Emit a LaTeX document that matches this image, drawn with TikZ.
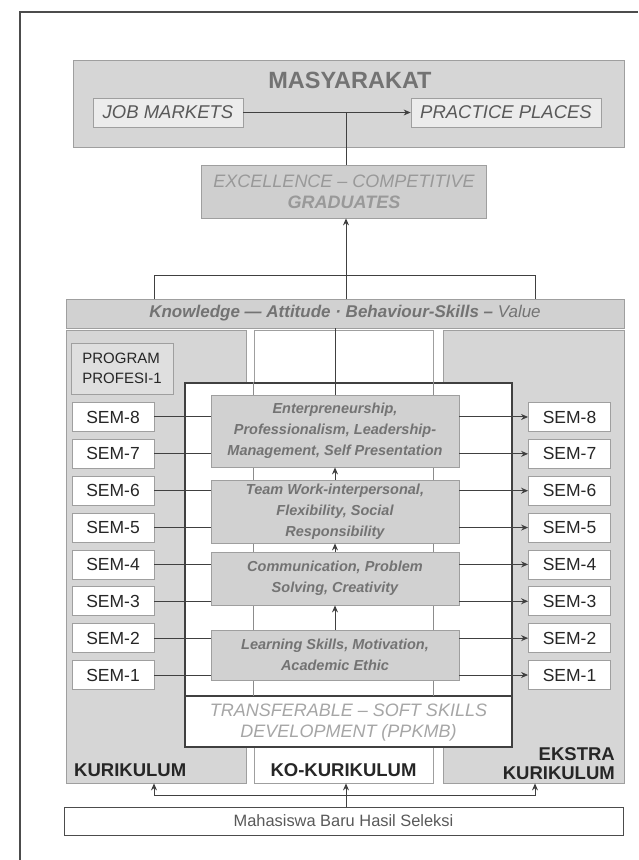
\documentclass[tikz,border=0pt]{standalone}
\usepackage{fontspec}
\setmainfont{Liberation Sans}
\usepackage{xcolor}
\usepackage{tikz}
\usetikzlibrary{arrows.meta,calc}
\tikzset{
  box/.style={draw=gray!75,line width=0.8pt,rectangle,inner sep=0pt,align=center},
  gbox/.style={box,fill=gray!32},
  hbox/.style={box,fill=gray!15,text=black!65,
               font=\fontsize{18.5}{20}\selectfont\itshape},
  skbox/.style={box,fill=gray!36,minimum width=248pt,text=black!55,
                font=\fontsize{14.5}{21}\selectfont\bfseries\itshape},
  sembox/.style={box,fill=white,minimum width=82pt,minimum height=29pt,
                 text=black!85,font=\fontsize{17.5}{18}\selectfont},
  colbox/.style={box,minimum height=453pt},
  colT/.style={inner sep=0pt,text=black!85,align=right,
               font=\fontsize{18.5}{19}\selectfont\bfseries},
  lnk/.style={line width=1pt,draw=black!75},
  arr/.style={-{Stealth[length=7pt,width=6pt]},line width=1pt,draw=black!75},
}

\begin{document}
\begin{tikzpicture}[x=1pt,y=-1pt]
\useasboundingbox (0,0) rectangle (638,860);
\draw[black!70,line width=1.2pt] (20,860) -- (20,12) -- (638,12);

% society
\node[gbox,minimum width=551pt,minimum height=87pt] (masy) at (348.5,103.5) {};
\node[font=\fontsize{23.5}{24}\selectfont\bfseries,text=black!55] (masyT) at (350,80) {MASYARAKAT};
\node[hbox,minimum width=150pt,minimum height=29pt] (job) at (168,112.5) {JOB MARKETS};
\node[hbox,minimum width=190pt,minimum height=29pt] (prac) at (506,112.5) {PRACTICE PLACES};
\draw[arr] (job) -- (prac);

% graduates
\coordinate (ax) at (346,0);
\node[box,fill=gray!38,minimum width=285pt,minimum height=53pt,text=black!40,
      font=\fontsize{18}{21}\selectfont\itshape] (excel) at (344,191.5)
      {EXCELLENCE – COMPETITIVE\\\bfseries GRADUATES};
\draw[lnk] (excel.north -| ax) -- (job.east -| ax);

% knowledge bar
\node[gbox,fill=gray!36,minimum width=558pt,minimum height=29pt,text=black!55,
      font=\fontsize{17}{18}\selectfont\bfseries\itshape] (know) at (345,313.5)
      {Knowledge — Attitude · Behaviour-Skills – \mdseries Value};
\draw[arr] (know.north -| ax) -- (excel.south -| ax);
\coordinate (bl) at (154,299);
\coordinate (br) at (535,299);
\draw[lnk] (bl) -- ++(0,-24) -| (br);

% three columns
\node[colbox,fill=gray!32,minimum width=180pt] (kur) at (156,556.5) {};
\node[colbox,fill=white,minimum width=179pt] (kok) at (343.5,556.5) {};
\node[colbox,fill=gray!32,minimum width=181pt] (eks) at (533.5,556.5) {};
\node[colT,anchor=base west] (kurT) at (74,776) {KURIKULUM};
\node[colT,anchor=base] (kokT) at (343.5,776) {KO-KURIKULUM};
\node[colT,anchor=east] (eksT) at (615,764) {EKSTRA\\KURIKULUM};

\node[box,fill=gray!25,minimum width=102pt,minimum height=51pt,align=left,
      text=black!85,font=\fontsize{15}{20}\selectfont] (prog) at (122,368.5)
      {PROGRAM\\PROFESI-1};

% soft skills frame
\node[draw=black!75,line width=2.5pt,fill=white,minimum width=327pt,
      minimum height=364pt] (soft) at (348.5,565) {};
\coordinate (sepL) at (185,696);
\coordinate (sepR) at (512,696);
\draw[black!75,line width=2.5pt] (sepL) -- (sepR);
\draw[black!45,line width=0.6pt] (kok.west |- soft.north) -- (kok.west |- sepL);
\draw[black!45,line width=0.6pt] (kok.east |- soft.north) -- (kok.east |- sepL);
\node[align=center,text=black!35,font=\fontsize{18}{21}\selectfont\itshape] (trans) at (348.5,723)
      {TRANSFERABLE – SOFT SKILLS\\DEVELOPMENT (PPKMB)};

% skill stages
\node[skbox,minimum height=72pt] (ent) at (335,431)
      {Enterpreneurship,\\Professionalism, Leadership-\\Management, Self Presentation};
\node[skbox,minimum height=63pt] (team) at (335,511.5)
      {Team Work-interpersonal,\\Flexibility, Social\\Responsibility};
\node[skbox,minimum height=53pt] (comm) at (335,578.5)
      {Communication, Problem\\Solving, Creativity};
\node[skbox,minimum height=50pt] (learn) at (335,655)
      {Learning Skills, Motivation,\\Academic Ethic};
\draw[lnk] (know.south -| ent.north) -- (ent.north);
\draw[arr] (team.north) -- (ent.south);
\draw[arr] (comm.north) -- (team.south);
\draw[arr] (learn.north) -- (comm.south);

% semesters
\foreach \i/\b in {1/learn,2/learn,3/comm,4/comm,5/team,6/team,7/ent,8/ent}{
  \pgfmathsetmacro{\yy}{675-(\i-1)*36.86}
  \node[sembox] (semL\i) at (113,\yy) {SEM-\i};
  \node[sembox] (semR\i) at (569.5,\yy) {SEM-\i};
  \draw[lnk] (semL\i.east) -- (semL\i.east -| \b.west);
  \draw[arr] (semR\i.west -| \b.east) -- (semR\i.west);
}

% new students
\node[box,draw=black!70,fill=white,minimum width=559pt,minimum height=28pt,
      text=black!65,font=\fontsize{16.4}{18}\selectfont] (mhs) at (343.5,821)
      {Mahasiswa Baru Hasil Seleksi};
\coordinate (bm) at (346,795);
\draw[arr] (mhs.north -| bm) -- (kok.south -| bm);
\draw[arr] (bm) -| (kur.south -| bl);
\draw[arr] (bm) -| (eks.south -| br);
\end{tikzpicture}
\end{document}
